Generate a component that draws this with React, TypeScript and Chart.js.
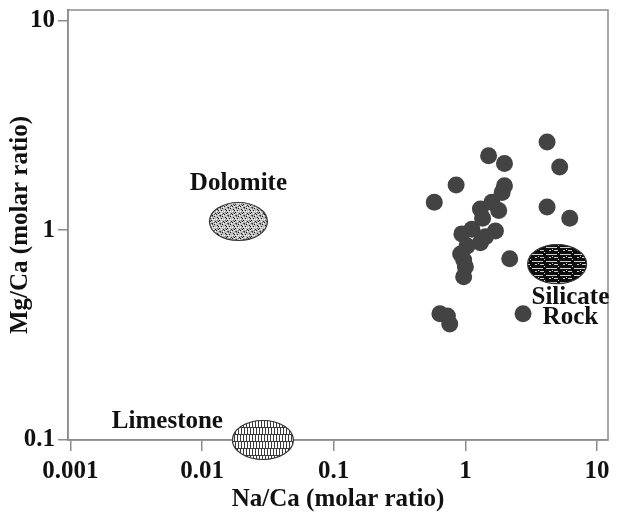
import React, { useEffect, useRef } from 'react';
import { Chart, registerables } from 'chart.js';
Chart.register(...registerables);

// Sample data (Na/Ca vs Mg/Ca, molar ratios)
const naCa = [4.17, 1.50, 1.98, 5.2, 0.85, 1.98, 1.90, 0.58, 4.17, 6.2, 1.59, 1.30, 1.79, 1.35, 1.69, 1.12, 1.42, 0.94, 1.30, 1.03, 0.92, 0.97, 1.0, 0.97, 2.17, 0.64, 0.73, 0.76, 2.74];
const mgCa = [2.63, 2.26, 2.08, 2.0, 1.64, 1.63, 1.51, 1.36, 1.29, 1.14, 1.36, 1.26, 1.24, 1.14, 0.99, 1.01, 0.93, 0.96, 0.87, 0.84, 0.77, 0.72, 0.67, 0.60, 0.73, 0.40, 0.39, 0.357, 0.40];

const xTicks = [0.001, 0.01, 0.1, 1, 10];
const xTickLabels = ['0.001', '0.01', '0.1', '1', '10'];
const yTicks = [0.1, 1, 10];
const yTickLabels = ['0.1', '1', '10'];

// End-member fields (centres)
const fieldNames = ['Dolomite', 'Limestone', 'Silicate Rock'];
const fieldNaCa = [0.0189, 0.029, 4.97];
const fieldMgCa = [1.10, 0.1, 0.689];

// Field labels (anchors)
const labelTexts = ['Dolomite', 'Limestone', 'Silicate', 'Rock'];
const labelNaCa = [0.0189, 0.00546, 6.27, 6.27];
const labelMgCa = [1.66, 0.123, 0.48, 0.385];

const FONT = '"Liberation Serif", "Times New Roman", serif';

function makePattern(kind: string): CanvasPattern | string {
  const c = document.createElement('canvas');
  const g = c.getContext('2d');
  if (!g) return '#999';
  if (kind === 'Dolomite') {
    c.width = 8; c.height = 8;
    g.fillStyle = '#bdbdbd';
    g.fillRect(0, 0, 8, 8);
    g.fillStyle = '#222';
    [[1, 1], [5, 2], [3, 4], [7, 5], [0, 6], [4, 7], [2, 2], [6, 0], [2, 5]].forEach(([x, y]) => g.fillRect(x, y, 1, 1));
    g.fillStyle = '#fff';
    [[3, 1], [0, 3], [6, 3], [2, 6], [5, 5], [7, 7], [4, 3]].forEach(([x, y]) => g.fillRect(x, y, 1, 1));
    g.fillStyle = '#666';
    [[4, 0], [1, 4], [6, 6], [3, 7]].forEach(([x, y]) => g.fillRect(x, y, 1, 1));
  } else if (kind === 'Limestone') {
    c.width = 9; c.height = 14;
    g.fillStyle = '#fff';
    g.fillRect(0, 0, 9, 14);
    g.fillStyle = '#3a3a3a';
    g.fillRect(0, 0, 9, 1);
    g.fillRect(0, 7, 9, 1);
    [0, 3, 6].forEach((x) => g.fillRect(x, 0, 1, 7));
    [1, 4, 7].forEach((x) => g.fillRect(x, 7, 1, 7));
  } else {
    c.width = 14; c.height = 7;
    g.fillStyle = '#0d0d0d';
    g.fillRect(0, 0, 14, 7);
    g.fillStyle = '#cfcfcf';
    g.fillRect(0, 2, 11, 1);
    g.fillRect(3, 5, 2, 1);
    g.fillRect(8, 5, 4, 1);
    g.fillRect(12, 0, 1, 1);
    g.fillRect(6, 4, 1, 1);
  }
  const p = g.createPattern(c, 'repeat');
  return p || '#999';
}

const fieldRx = [29, 30.5, 29.5];
const fieldRy = [19, 19.5, 19.5];

const overlayPlugin = {
  id: 'overlay',
  afterDraw(chart: any) {
    const { ctx, chartArea, scales } = chart;
    const xs = scales.x;
    const ys = scales.y;
    ctx.save();
    // Frame
    ctx.strokeStyle = '#8c8c8c';
    ctx.lineWidth = 1.5;
    ctx.strokeRect(chartArea.left, chartArea.top, chartArea.right - chartArea.left, chartArea.bottom - chartArea.top);
    // Fields
    fieldNames.forEach((name, i) => {
      const cx = xs.getPixelForValue(fieldNaCa[i]);
      const cy = ys.getPixelForValue(fieldMgCa[i]);
      ctx.beginPath();
      ctx.ellipse(cx, cy, fieldRx[i], fieldRy[i], 0, 0, Math.PI * 2);
      ctx.fillStyle = makePattern(name);
      ctx.fill();
      ctx.strokeStyle = '#333';
      ctx.lineWidth = 1.2;
      ctx.stroke();
    });
    // Labels
    ctx.fillStyle = '#111';
    ctx.font = `bold 25px ${FONT}`;
    ctx.textAlign = 'center';
    ctx.textBaseline = 'middle';
    labelTexts.forEach((t, i) => {
      ctx.fillText(t, xs.getPixelForValue(labelNaCa[i]), ys.getPixelForValue(labelMgCa[i]));
    });
    ctx.restore();
  },
};

export default function App() {
  const ref = useRef<HTMLCanvasElement>(null);
  useEffect(() => {
    if (!ref.current) return;
    const chart = new Chart(ref.current, {
      type: 'scatter',
      data: {
        datasets: [
          {
            label: 'Samples',
            data: naCa.map((x, i) => ({ x, y: mgCa[i] })),
            backgroundColor: '#434343',
            borderColor: '#434343',
            borderWidth: 0,
            pointRadius: 8.5,
          },
        ],
      },
      options: {
        animation: false,
        responsive: false,
        devicePixelRatio: 1,
        layout: { padding: { top: 10, right: 11, left: 0, bottom: 0 } },
        plugins: { legend: { display: false }, tooltip: { enabled: false } },
        scales: {
          x: {
            type: 'logarithmic',
            min: 0.00096,
            max: 12.1,
            afterBuildTicks: (s: any) => { s.ticks = xTicks.map((v) => ({ value: v })); },
            afterFit: (s: any) => { s.height = 75; s.paddingLeft = 0; s.paddingRight = 0; },
            ticks: {
              autoSkip: false,
              maxRotation: 0,
              padding: 6,
              color: '#111',
              font: { family: FONT, size: 25, weight: 'bold' },
              callback: (v: any) => xTickLabels[xTicks.indexOf(Number(v))] ?? '',
            },
            grid: { drawOnChartArea: false, drawTicks: true, tickLength: 11, color: '#8c8c8c', lineWidth: 1.5 },
            border: { color: '#8c8c8c', width: 1.5 },
            title: {
              display: true,
              text: 'Na/Ca (molar ratio)',
              color: '#111',
              font: { family: FONT, size: 25, weight: 'bold' },
              padding: { top: 0, bottom: 0 },
            },
          },
          y: {
            type: 'logarithmic',
            min: 0.1,
            max: 11.2,
            afterBuildTicks: (s: any) => { s.ticks = yTicks.map((v) => ({ value: v })); },
            afterFit: (s: any) => { s.width = 68; s.paddingTop = 0; s.paddingBottom = 0; },
            ticks: {
              autoSkip: false,
              padding: 3,
              color: '#111',
              font: { family: FONT, size: 25, weight: 'bold' },
              callback: (v: any) => yTickLabels[yTicks.indexOf(Number(v))] ?? '',
            },
            grid: { drawOnChartArea: false, drawTicks: true, tickLength: 10, color: '#8c8c8c', lineWidth: 1.5 },
            border: { color: '#8c8c8c', width: 1.5 },
            title: {
              display: true,
              text: 'Mg/Ca (molar ratio)',
              color: '#111',
              font: { family: FONT, size: 25, weight: 'bold' },
              padding: { top: 6, bottom: 0 },
            },
          },
        },
      },
      plugins: [overlayPlugin],
    });
    return () => chart.destroy();
  }, []);
  return (
    <div style={{ position: 'absolute', left: 0, top: 0, width: 619, height: 515, background: '#fff' }}>
      <canvas ref={ref} width={619} height={515} />
    </div>
  );
}
